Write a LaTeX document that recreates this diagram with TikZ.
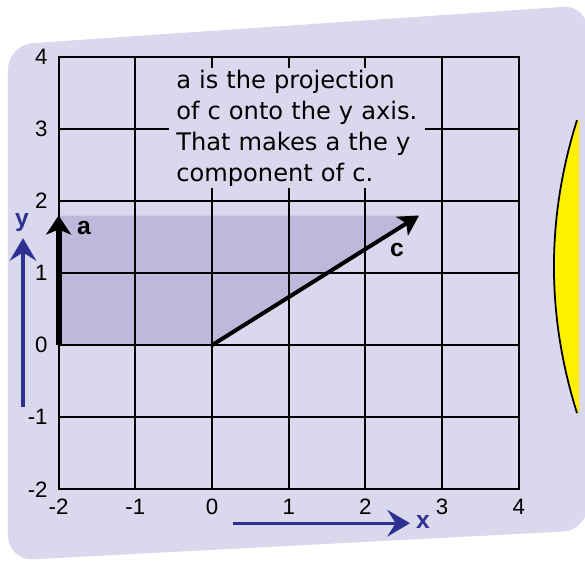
\documentclass[tikz,border=0pt]{standalone}
\usepackage{fontspec}
\setmainfont{Liberation Sans}
\newfontfamily\notefont{DejaVu Sans}
\usetikzlibrary{arrows.meta}
\definecolor{panelbg}{RGB}{217,216,236}
\definecolor{projshade}{RGB}{189,185,219}
\definecolor{axisblue}{RGB}{46,49,146}
\definecolor{sunyellow}{RGB}{255,240,0}

\begin{document}
\begin{tikzpicture}[x=2.3cm, y=2.16cm,
    gridline/.style={black,line width=1.7pt},
    tick/.style={font=\fontsize{19}{19}\selectfont,inner sep=0pt},
    vec/.style={black,line width=3.4pt,-{Stealth[length=6mm,width=6.6mm,inset=1.5mm]}},
    axisarrow/.style={axisblue,line width=2.6pt,-{Stealth[length=6.8mm,width=8mm,inset=2.5mm]}},
    veclabel/.style={font=\bfseries\fontsize{21}{21}\selectfont,inner sep=0pt},
    note/.style={fill=panelbg,anchor=north west,inner xsep=0.21cm,inner ysep=0pt,
      text width=7.25cm,minimum height=3.6cm,align=left,
      font=\notefont\fontsize{20.6}{26.4}\selectfont}]
  \useasboundingbox (-2.764,-3.0) rectangle (4.863,4.792);
  \fill[panelbg,rounded corners=0.75cm] (-2.66,4.17) -- (4.9,4.72) -- (4.9,-2.57) -- (-2.66,-2.99) -- cycle;
  \fill[sunyellow] (4.759,3.125) .. controls (4.358,1.764) and (4.358,0.417) .. (4.759,-0.944)
    -- (4.785,-0.944) -- (4.785,3.125) -- cycle;
  \draw[line width=1.5pt] (4.759,3.125) .. controls (4.358,1.764) and (4.358,0.417) .. (4.759,-0.944);
  \coordinate (o) at (0,0);
  \coordinate (ctip) at (2.7,1.8);
  \coordinate (abase) at (-2,0);
  \coordinate (atip) at (-2,1.8);
  \fill[projshade] (abase) -- (o) -- (ctip) -- (atip) -- cycle;
  \foreach \gx in {-1,...,3} \draw[gridline] (\gx,-2) -- (\gx,4);
  \foreach \gy in {-1,...,3} \draw[gridline] (-2,\gy) -- (4,\gy);
  \draw[gridline] (-2,-2) rectangle (4,4);
  \node[note] (note) at (-0.56,3.847) {a is the projection\\of c onto the y axis.\\That makes a the y\\component of c.};
  \foreach \gy in {-2,...,4} \node[tick,anchor=east] (ylab\gy) at (-2.14,\gy) {\gy};
  \foreach \gx in {-2,...,4} \node[tick] (xlab\gx) at (\gx,-2.24) {\gx};
  \draw[vec] (o) -- (ctip);
  \draw[vec,line width=5.1pt,-{Stealth[length=5.7mm,width=7.5mm,inset=1.5mm]}] (abase) -- (atip);
  \node[veclabel] (alabel) at (-1.669,1.625) {a};
  \node[veclabel] (clabel) at (2.412,1.319) {c};
  \coordinate (ybot) at (-2.464,-0.861);
  \coordinate (ytop) at (-2.464,1.486);
  \coordinate (xleft) at (0.274,-2.472);
  \coordinate (xright) at (2.581,-2.472);
  \draw[axisarrow] (ybot) -- (ytop);
  \draw[axisarrow] (xleft) -- (xright);
  \node[veclabel,text=axisblue] (ylabel) at (-2.477,1.708) {y};
  \node[veclabel,text=axisblue] (xlabel) at (2.75,-2.46) {x};
\end{tikzpicture}
\end{document}
